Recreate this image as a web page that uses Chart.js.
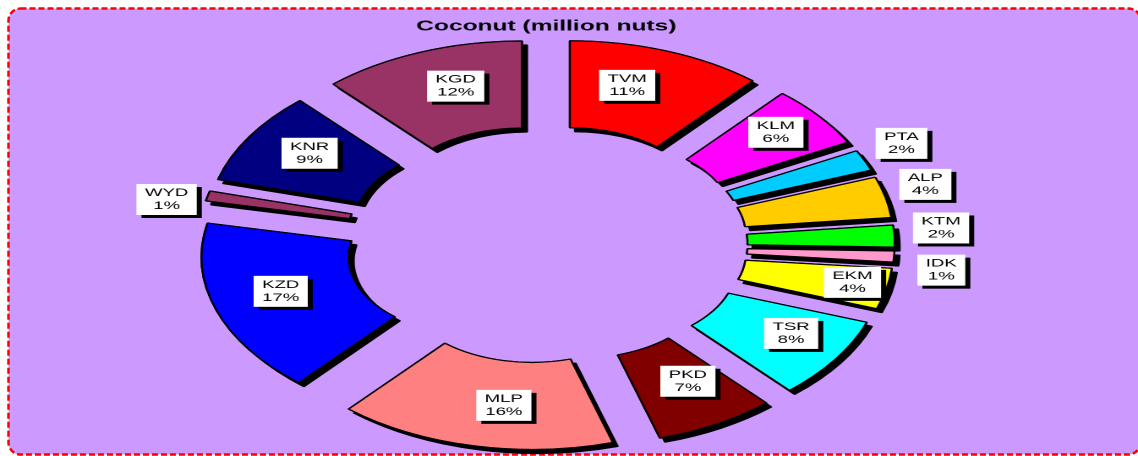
<!DOCTYPE html>
<html><head><meta charset="utf-8">
<script src="https://cdn.jsdelivr.net/npm/chart.js@4.4.1/dist/chart.umd.min.js"></script>
<style>
html,body{margin:0;padding:0;background:#fff;overflow:hidden;width:1138px;height:456px;}
#frame{position:absolute;left:0;top:0;}
#wrap{position:absolute;left:0;top:0;width:673px;height:456px;transform:scaleX(1.6909);transform-origin:0 0;}
</style></head>
<body>
<svg id="frame" width="1138" height="456"><rect x="8.5" y="8.5" width="1132" height="446" rx="12" ry="12" fill="#CC99FF" stroke="#FF0000" stroke-width="2.5" stroke-dasharray="6 3"/></svg>
<div id="wrap"><canvas id="c"></canvas></div>
<script>
// District codes (clockwise from 12 o'clock)
const categories = ['TVM','KLM','PTA','ALP','KTM','IDK','EKM','TSR','PKD','MLP','KZD','WYD','KNR','KGD'];
// Coconut production, million nuts
const productionValues = [640, 340, 115, 225, 120, 60, 225, 450, 395, 905, 960, 55, 510, 665];
const sliceColors = ['#FF0000','#FF00FF','#00CCFF','#FFCC00','#00FF00','#FF99CC','#FFFF00','#00FFFF','#800000','#FF8080','#0000FF','#993366','#000080','#993366'];
const chartTitle = 'Coconut (million nuts)';

const EXPLODE = 40;
const baseArcDraw = Chart.ArcElement.prototype.draw;
Chart.ArcElement.prototype.draw = function(ctx) {
  const mid = (this.startAngle + this.endAngle) / 2;
  ctx.save();
  ctx.translate(Math.cos(mid) * EXPLODE, Math.sin(mid) * EXPLODE);
  baseArcDraw.call(this, ctx);
  ctx.restore();
};

const sliceShadow = {
  id: 'sliceShadow',
  beforeDatasetsDraw(chart) {
    const ctx = chart.ctx, dpr = chart.currentDevicePixelRatio;
    chart.getDatasetMeta(0).data.forEach(arc => {
      ctx.save();
      ctx.shadowColor = '#000';
      ctx.shadowBlur = 0;
      ctx.shadowOffsetX = 3 * dpr;
      ctx.shadowOffsetY = 4 * dpr;
      arc.draw(ctx);
      ctx.restore();
    });
  }
};

const boxLabels = {
  id: 'boxLabels',
  afterDatasetsDraw(chart, args, opts) {
    const ctx = chart.ctx;
    const meta = chart.getDatasetMeta(0);
    const data = chart.data.datasets[0].data;
    const total = data.reduce((a, b) => a + b, 0);
    meta.data.forEach((arc, i) => {
      const p = arc.getProps(['x','y','startAngle','endAngle','innerRadius','outerRadius'], true);
      const name = chart.data.labels[i];
      const place = opts.placement[name] || {};
      const r = place.r !== undefined ? place.r : EXPLODE + (p.innerRadius + p.outerRadius) / 2 + 3;
      const a = (p.startAngle + p.endAngle) / 2 + (place.da || 0) * Math.PI / 180;
      const cx = p.x + Math.cos(a) * r, cy = p.y + Math.sin(a) * r;
      const l1 = name, l2 = Math.round(data[i] / total * 100) + '%';
      ctx.save();
      ctx.font = '11px "Liberation Sans", Arial, sans-serif';
      const w = Math.max(ctx.measureText(l1).width, ctx.measureText(l2).width) + 10;
      const h = 31;
      const bx = cx - w / 2, by = cy - h / 2;
      ctx.fillStyle = '#000';
      ctx.fillRect(bx + 3, by + 3, w, h);
      ctx.fillStyle = '#FFFFFF';
      ctx.fillRect(bx, by, w, h);
      ctx.fillStyle = '#000';
      ctx.textAlign = 'center';
      ctx.textBaseline = 'middle';
      ctx.fillText(l1, cx, cy - 6.5);
      ctx.fillText(l2, cx, cy + 6.5);
      ctx.restore();
    });
  }
};

new Chart(document.getElementById('c'), {
  type: 'doughnut',
  data: {
    labels: categories,
    datasets: [{
      data: productionValues,
      backgroundColor: sliceColors,
      borderColor: '#000',
      borderWidth: 1.2,
      hoverOffset: 0,
      offset: 0
    }]
  },
  options: {
    responsive: true,
    maintainAspectRatio: false,
    devicePixelRatio: 2,
    animation: false,
    events: [],
    radius: 166,
    cutout: '47.6%',
    layout: { padding: { left: 0, right: 26.8, top: 0, bottom: 8 } },
    plugins: {
      legend: { display: false },
      tooltip: { enabled: false },
      title: {
        display: true,
        text: chartTitle,
        color: '#000',
        font: { family: '"Liberation Sans", Arial, sans-serif', size: 14.5, weight: 'bold' },
        padding: { top: 18, bottom: 5.2 }
      },
      boxLabels: {
        // label anchor: radial distance from ring centre and angle tweak (degrees)
        placement: {
          TVM: { r: 166, da: -3.6 },
          KLM: { r: 176, da: -1 },
          PTA: { r: 233, da: -1.6 },
          ALP: { r: 232, da: -1.7 },
          KTM: { r: 234, da: -1.7 },
          IDK: { r: 235, da: 2.9 },
          EKM: { r: 185, da: -0.6 },
          TSR: { r: 170, da: -2.3 },
          PKD: { r: 160.5, da: -2.2 },
          MLP: { r: 163, da: -3.2 },
          KZD: { r: 164, da: 2 },
          WYD: { r: 229, da: -2.3 },
          KNR: { r: 167, da: 1.5 },
          KGD: { r: 167, da: 2.4 }
        }
      }
    }
  },
  plugins: [sliceShadow, boxLabels]
});
</script>
</body></html>
